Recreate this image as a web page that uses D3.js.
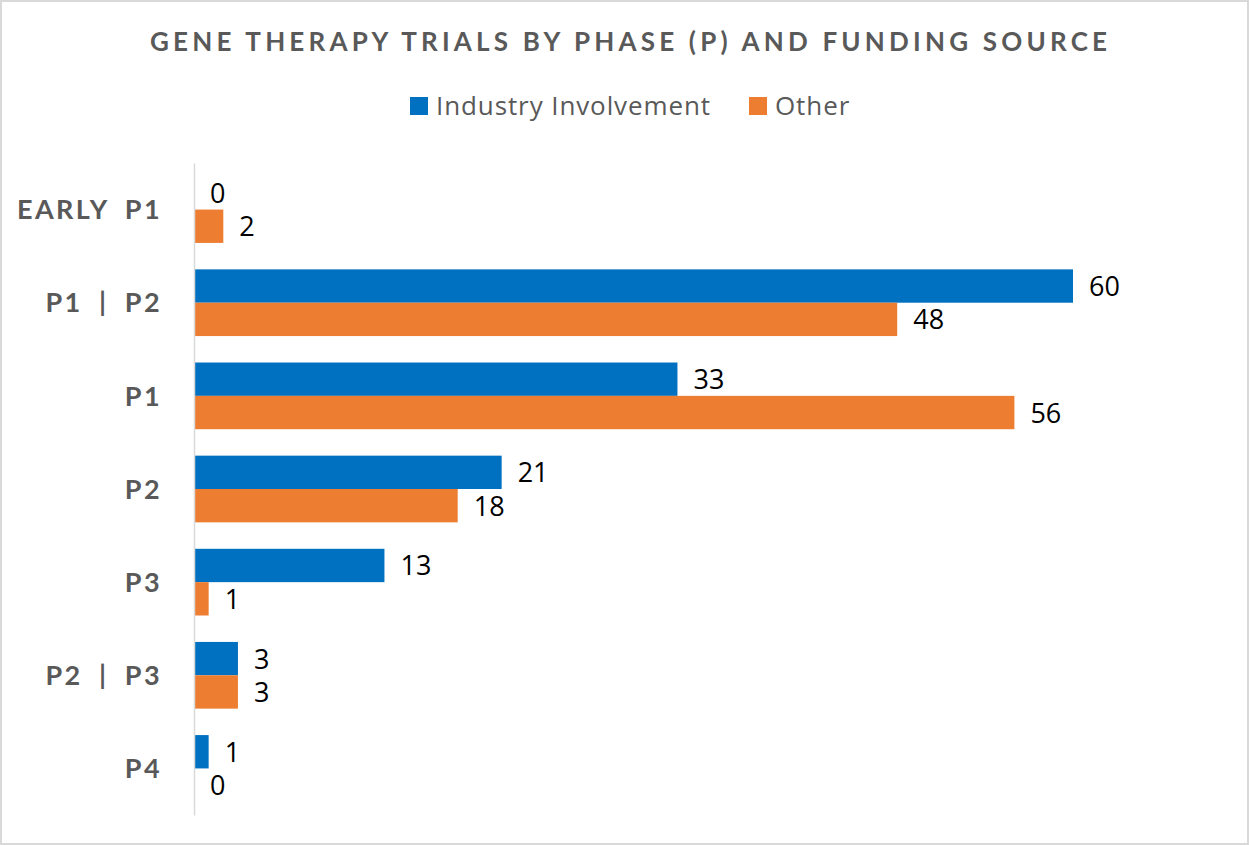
<!DOCTYPE html>
<html lang="en">
<head>
<meta charset="UTF-8">
<title>Gene therapy trials</title>
<script src="https://cdn.jsdelivr.net/npm/d3@7"></script>
<style>
  body { margin: 0; background: #fff; }
  text { font-family: Lato, "Liberation Sans", sans-serif; }
</style>
</head>
<body>
<div id="chart"></div>
<script>
const categories = ["EARLY P1", "P1 | P2", "P1", "P2", "P3", "P2 | P3", "P4"];
const seriesNames = ["Industry Involvement", "Other"];
const industry = [0, 60, 33, 21, 13, 3, 1];
const other = [2, 48, 56, 18, 1, 3, 0];
const colors = ["#0070C0", "#ED7D31"];

const width = 1249, height = 845;

const svg = d3.select("#chart").append("svg")
    .attr("width", width)
    .attr("height", height);

// outer frame
svg.append("rect")
    .attr("x", 1).attr("y", 1)
    .attr("width", width - 2).attr("height", height - 2)
    .attr("fill", "#fff")
    .attr("stroke", "#d9d9d9")
    .attr("stroke-width", 2);

// title
svg.append("text")
    .attr("x", 150).attr("y", 51)
    .attr("textLength", 957)
    .attr("lengthAdjust", "spacing")
    .style("font-size", "26px")
    .style("font-weight", "bold")
    .style("fill", "#595959")
    .text("GENE THERAPY TRIALS BY PHASE (P) AND FUNDING SOURCE");

// legend
const legendX = [410, 749];
const legend = svg.append("g").selectAll("g")
    .data(seriesNames)
    .join("g")
    .attr("transform", (d, i) => `translate(${legendX[i]}, 97)`);
legend.append("rect")
    .attr("width", 18).attr("height", 18)
    .attr("fill", (d, i) => colors[i]);
legend.append("text")
    .attr("x", 26).attr("y", 18)
    .style("font-family", "'Open Sans', sans-serif")
    .style("font-size", "26px")
    .style("letter-spacing", "0.9px")
    .style("fill", "#595959")
    .text(d => d);

const x = d3.scaleLinear()
    .domain([0, 60])
    .range([194, 1073]);

const y = d3.scaleBand()
    .domain(categories)
    .range([163, 815])
    .paddingInner(0.284)
    .paddingOuter(0.142);

const ySub = d3.scaleBand()
    .domain(seriesNames)
    .range([0, y.bandwidth()]);

const rows = categories.map((c, i) => ({
    cat: c,
    vals: [
        {name: seriesNames[0], value: industry[i], color: colors[0]},
        {name: seriesNames[1], value: other[i], color: colors[1]}
    ]
}));

const groups = svg.append("g").selectAll("g")
    .data(rows)
    .join("g")
    .attr("transform", d => `translate(0, ${y(d.cat)})`);

groups.selectAll("rect")
    .data(d => d.vals)
    .join("rect")
    .attr("x", x(0))
    .attr("y", d => ySub(d.name))
    .attr("width", d => x(d.value) - x(0))
    .attr("height", ySub.bandwidth())
    .attr("fill", d => d.color);

groups.selectAll("text.val")
    .data(d => d.vals)
    .join("text")
    .attr("class", "val")
    .attr("x", d => x(d.value) + 16)
    .attr("y", d => ySub(d.name) + ySub.bandwidth() / 2)
    .attr("dy", "0.37em")
    .style("font-family", "'Open Sans', sans-serif")
    .style("font-size", "27px")
    .style("fill", "#000")
    .text(d => d.value);

// category axis
const yAxis = d3.axisLeft(y).tickSize(0).tickPadding(0);
const axisG = svg.append("g")
    .attr("transform", `translate(${x(0)}, 0)`)
    .call(yAxis);
axisG.select(".domain")
    .attr("stroke", "#d9d9d9")
    .attr("stroke-width", 1.5);
axisG.selectAll(".tick text")
    .attr("x", -32)
    .attr("dy", "0.36em")
    .style("font-family", "Lato, 'Liberation Sans', sans-serif")
    .style("font-size", "27px")
    .style("font-weight", "bold")
    .style("letter-spacing", "2.4px")
    .style("word-spacing", "7.4px")
    .style("fill", "#595959");
</script>
</body>
</html>
